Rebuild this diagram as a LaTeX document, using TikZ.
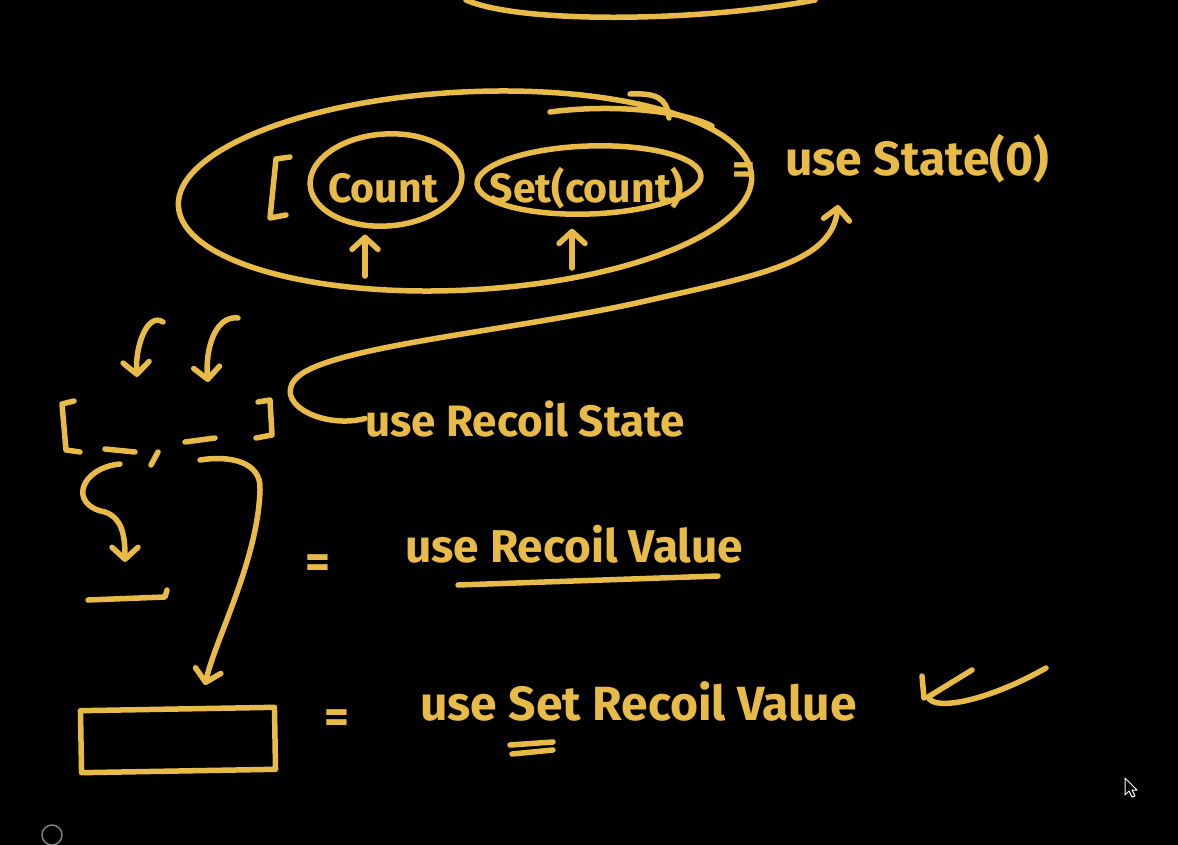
\documentclass[tikz,border=0pt]{standalone}
\usepackage{fontspec}
\setmainfont{Fira Sans}
\usetikzlibrary{arrows.meta,shapes.geometric}
\definecolor{chalk}{RGB}{232,186,72}
\newcommand{\hand}[1]{\fontsize{#1}{#1}\selectfont\bfseries}
\begin{document}
\begin{tikzpicture}[x=1pt, y=-1pt, >={Straight Barb[length=12pt,width=26pt,round]},
    line cap=round, line join=round,
    ink/.style={chalk, line width=5.5pt},
    word/.style={chalk, inner sep=0pt, anchor=base west}]
% Board
\fill[black] (0,0) rectangle (1178,845);
\useasboundingbox (0,0) rectangle (1178,845);
% Top curve
\draw[ink] (466,0) .. controls (520,24) and (700,22) .. (815,0);
% useState pair
\node[draw, ink, ellipse, minimum width=574pt, minimum height=198pt, rotate=3] (pair) at (465,191) {};
\draw[ink] (550,112) .. controls (610,104) and (680,110) .. (712,126);
\draw[ink] (630,94) .. controls (655,93) and (667,97) .. (669,118);
\draw[ink] (290,157) -- (276,159) -- (270,218) -- (286,215);
\node[draw, ink, ellipse, minimum width=152pt, minimum height=92pt, rotate=4] (countring) at (386,180) {};
\node[word, anchor=base] (count) at (383,203) {\hand{41}Count};
\node[draw, ink, ellipse, minimum width=224pt, minimum height=68pt, rotate=2] (setring) at (589,180) {};
\node[word, anchor=base] (setcount) at (587,203) {\hand{41}Set(count)};
\coordinate (c1) at (365,276);
\coordinate (c2) at (572,268);
\draw[ink, ->] (c1) -- ([yshift=-6pt]countring.south -| c1);
\draw[ink, ->] (c2) -- ([yshift=-12pt]setring.south -| c2);
\node[word, anchor=base] (eq1) at (744,185) {\hand{44}=};
\node[word] (usestate) at (785,176) {\hand{48}use State(0)};
% useRecoilState
\node[word] (recoilstate) at (365,436) {\hand{44}use Recoil State};
\coordinate (ust) at (838,205);
\draw[ink, ->] (recoilstate.west) .. controls (320,430) and (268,400) .. (300,375)
    .. controls (340,345) and (520,330) .. (650,300)
    .. controls (760,275) and (832,262) .. (ust);
% Destructured pair
\coordinate (slot1) at (120,450);
\coordinate (slot2) at (200,440);
\draw[ink] (74,401) -- (62,404) -- (66,450) -- (80,452);
\draw[ink] (105,449) -- (135,452);
\draw[ink] (158,452) -- (151,465);
\draw[ink] (185,442) -- (215,438);
\draw[ink] (258,402) -- (270,400) -- (272,435) -- (256,438);
\coordinate (d1) at (163,322);
\coordinate (d2) at (238,318);
\draw[ink, ->] (d1) .. controls (148,312) and (135,345) .. (137,377);
\draw[ink, ->] (d2) .. controls (215,315) and (205,350) .. (208,382);
% useRecoilValue
\coordinate (val) at (125,562);
\draw[ink, ->] ([yshift=-14pt]slot1) .. controls (80,468) and (68,505) .. (105,512)
    .. controls (122,518) and (125,535) .. (val);
\draw[ink] (88,600) -- (165,597) -- (167,590);
\node[word, anchor=base] (eq2) at (318,578) {\hand{48}=};
\node[word] (recoilvalue) at (405,562) {\hand{46}use Recoil Value};
\draw[ink] (458,585) -- (718,576);
% useSetRecoilValue
\node[draw, ink, minimum width=194pt, minimum height=62pt, rotate=1] (box) at (178,740) {};
\coordinate (boxin) at (205,685);
\draw[ink, ->] ([yshift=-20pt]slot2) .. controls (230,455) and (262,462) .. (260,490)
    .. controls (258,560) and (215,640) .. (boxin);
\node[word, anchor=base] (eq3) at (337,733) {\hand{48}=};
\node[word] (setrecoilvalue) at (420,720) {\hand{48}use Set Recoil Value};
\draw[ink] (510,745) -- (553,742);
\draw[ink] (512,754) -- (553,750);
% Tick
\draw[ink] (922,676) -- (924,698);
\draw[ink] (972,670) -- (928,697) .. controls (934,712) and (990,700) .. (1046,668);
% Screen marks
\draw[white, line width=1pt, fill=black] (1125,778) -- (1125,795) -- (1129,791) -- (1132,797)
    -- (1135,796) -- (1132,790) -- (1137,790) -- cycle;
\draw[gray, line width=1.5pt] (52,835) circle (10);
\end{tikzpicture}
\end{document}
